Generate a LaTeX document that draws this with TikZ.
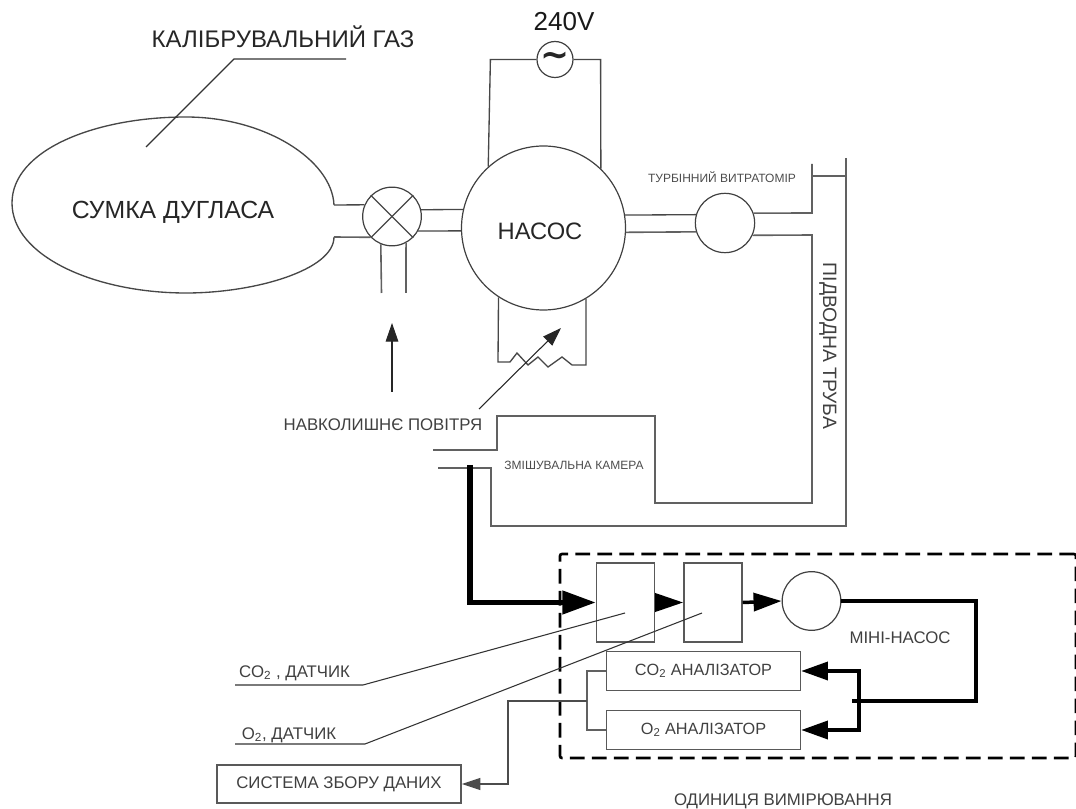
\documentclass[tikz,border=0pt]{standalone}
\usepackage{fontspec}
\setmainfont{Liberation Sans}
\newfontfamily\tildefont{DejaVu Sans}
\usetikzlibrary{positioning,arrows.meta,calc}

\begin{document}
\begin{tikzpicture}[
    x=0.75pt, y=-0.75pt,
    node distance=21pt,
    line/.style={draw=black!72, line width=1pt},
    wire/.style={draw=black!62, line width=1.2pt},
    leader/.style={draw=black!80, line width=0.8pt},
    vessel/.style={circle, draw=black!75, line width=0.9pt, inner sep=0pt},
    sensor/.style={rectangle, draw=black!65, line width=1.1pt, minimum width=43.5pt, minimum height=59pt},
    analyser/.style={rectangle, draw=black!65, line width=1.1pt, minimum width=145.5pt, minimum height=29pt,
        font=\fontsize{12.2}{14}\selectfont, text=black!75},
    unitbox/.style={rectangle, draw=black, line width=2pt, dash pattern=on 11pt off 5.5pt, rounded corners=1.5pt},
    thickline/.style={draw=black, line width=3pt},
    inlet/.style={draw=black, line width=4pt, -{Triangle[length=25pt, width=17pt]}},
    flow/.style={draw=black, line width=2.6pt, -{Triangle[length=21pt, width=13.5pt]}},
    manifold/.style={draw=black, line width=2.6pt, {Triangle[length=20pt, width=13.5pt]}-{Triangle[length=20pt, width=13.5pt]}},
    airarrow/.style={draw=black!85, line width=0.8pt, -{Triangle[length=14pt, width=9.5pt]}},
    outarrow/.style={draw=black!70, line width=1pt, -{Triangle[length=14pt, width=9pt]}},
    biglabel/.style={font=\fontsize{18}{21}\selectfont, text=black!85},
    midlabel/.style={font=\fontsize{12.6}{15}\selectfont, text=black!75},
    smalllabel/.style={font=\fontsize{9}{10}\selectfont, text=black!70}
]
\useasboundingbox (0,0) rectangle (1076,809);

% Douglas bag
\coordinate (bagtop) at (334,205);
\coordinate (baglow) at (334,237);
\draw[line] (bagtop) .. controls (332,160) and (265,117) .. (186,117)
    .. controls (95,117) and (12,150) .. (12,203)
    .. controls (12,256) and (95,293) .. (186,293)
    .. controls (255,293) and (334,270) .. (baglow);
\node[biglabel, font=\fontsize{18.6}{21}\selectfont] (baglabel) at (173,212) {СУМКА ДУГЛАСА};

% Calibration gas
\node[biglabel] (gaslabel) at (283,37) {КАЛІБРУВАЛЬНИЙ ГАЗ};
\coordinate (gasend) at (346,59);
\coordinate (gasbend) at (234,59);
\coordinate (gastip) at (146,147);
\draw[leader] (gasend) -- (gasbend) -- (gastip);

% Valve, pump and flow meter
\node[vessel, minimum size=44pt] (valve) at (392,216.5) {};
\node[vessel, minimum size=123pt] (pump) at (543.5,228) {};
\node[biglabel, font=\fontsize{17.8}{21}\selectfont] (pumplabel) at (540,231) {НАСОС};
\node[vessel, minimum size=44.5pt] (meter) at (725,223) {};
\node[vessel, minimum size=27pt] (source) at (555,59.5) {};
\node[font=\tildefont\bfseries\fontsize{26}{26}\selectfont, text=black!85, inner sep=0pt] (tilde) at (555,59.5) {\char`\~};
\node[font=\fontsize{19.5}{22}\selectfont, text=black!90] (voltage) at (564,22) {240V};
\node[smalllabel] (meterlabel) at (722,177) {ТУРБІННИЙ ВИТРАТОМІР};

\draw[line] (valve.45) -- (valve.225);
\draw[line] (valve.135) -- (valve.-45);
\draw[line] (bagtop) -- (valve.157);
\draw[wire] (baglow) -- (valve.224);
\draw[line] (valve.13) -- (pump.167);
\draw[line] (valve.-29) -- (pump.182);

% Ambient air inlets
\coordinate (inleta) at (381.5,293);
\coordinate (inletb) at (406,293);
\draw[wire] (valve.-112) -- (inleta);
\draw[wire] (valve.-62) -- (inletb);

% Mains supply
\draw[line] (source.west) -- ++(-46,0) -- (pump.132);
\draw[line] (source.east) -- ++(27,0) -- (pump.46);

% Pump heater
\coordinate (heatl) at (498,362);
\coordinate (heatr) at (586,365);
\draw[line] (pump.-123) -- (heatl) -- (510,362) -- (517,353) -- (528,365) -- (538,357)
    -- (548,367) -- (562,357) -- (572,365) -- (heatr) -- (pump.-59);

% Sampling pipes
\coordinate (stub) at (812,164);
\coordinate (tee) at (812,176);
\coordinate (pipetop) at (846,158);
\coordinate (upperbend) at (812,213);
\coordinate (lowerbend) at (812,235);
\coordinate (chamberin) at (433,450);
\coordinate (chamberout) at (438,468);
\draw[line] (pump.9) -- (meter.164);
\draw[wire] (pump.-3) -- (meter.197);
\draw[wire] (meter.19) -- (upperbend) -- (stub);
\draw[wire] (tee) -- (tee -| pipetop);
\draw[wire] (meter.-24) -- (lowerbend) -- (812,503) -- (655,503) -- (655,416) -- (497,416) -- (497,450) -- (chamberin);
\draw[wire] (pipetop) -- (846,526) -- (491,526) -- (491,468) -- (chamberout);

\node[smalllabel] (mixlabel) at (574,465) {ЗМІШУВАЛЬНА КАМЕРА};
\node[font=\fontsize{14.5}{17}\selectfont, text=black!75, rotate=-90] (pipelabel) at (828,346) {ПІДВОДНА ТРУБА};

% Ambient air
\node[midlabel] (airlabel) at (383,425) {НАВКОЛИШНЄ ПОВІТРЯ};
\coordinate (airup) at (392,392);
\coordinate (airuptip) at (392,323);
\coordinate (airdiag) at (479,409);
\coordinate (airdiagtip) at (561,328);
\draw[airarrow] (airup) -- (airuptip);
\draw[airarrow] (airdiag) -- (airdiagtip);

% Measurement unit
\node[unitbox, minimum width=387pt, minimum height=153pt] (unit) at (818,656) {};
\node[sensor] (box1) at (625.5,602.5) {};
\node[sensor, right=of box1] (box2) {};
\node[vessel, minimum size=44pt] (mini) at (811.5,601) {};
\node[analyser] (co2box) at (703.5,671) {CO\textsubscript{2} АНАЛІЗАТОР};
\node[analyser] (o2box) at (703.5,730) {O\textsubscript{2} АНАЛІЗАТОР};
\node[midlabel] (minilabel) at (900,638) {МІНІ-НАСОС};
\node[midlabel] (unitlabel) at (783,801) {ОДИНИЦЯ ВИМІРЮВАННЯ};

% Sample path
\coordinate (tap) at (470,465);
\coordinate (turn) at (976,701);
\coordinate (join) at (852,701);
\coordinate (manitop) at (859,671);
\coordinate (manilow) at (859,730);
\draw[inlet] (tap) |- (box1.west);
\draw[flow] (box1.east) -- (box2.west |- box1.east);
\draw[flow] (box2.east) -- (mini.west);
\draw[thickline] (mini.east) -| (turn) -- (join);
\draw[manifold] (co2box.east) -- (manitop) -- (manilow) -- (o2box.east);

% Sensor labels
\node[midlabel] (co2label) at (294.5,673) {CO\textsubscript{2} , ДАТЧИК};
\node[midlabel] (o2label) at (289,735) {O\textsubscript{2}, ДАТЧИК};
\coordinate (co2start) at (235,685);
\coordinate (co2bend) at (363,685);
\coordinate (co2tip) at (625,613);
\coordinate (o2start) at (235,744);
\coordinate (o2bend) at (365,744);
\coordinate (o2tip) at (702,613);
\draw[leader] (co2start) -- (co2bend) -- (co2tip);
\draw[leader] (o2start) -- (o2bend) -- (o2tip);

% Data acquisition
\node[rectangle, draw=black!65, line width=1.1pt, minimum width=183pt, minimum height=28.5pt,
    midlabel] (daq) at (339,784) {СИСТЕМА ЗБОРУ ДАНИХ};
\coordinate (collecttop) at (587,671);
\coordinate (collectlow) at (587,730);
\coordinate (collectmid) at (587,701);
\coordinate (daqbend) at (508,701);
\draw[wire] (co2box.west) -- (collecttop) -- (collectlow) -- (o2box.west);
\draw[outarrow] (collectmid) -- (daqbend) |- (daq.east);

\end{tikzpicture}
\end{document}
